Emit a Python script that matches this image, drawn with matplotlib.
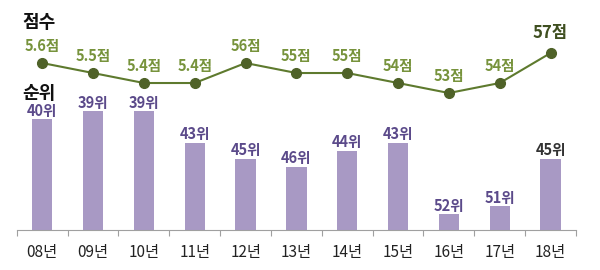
import matplotlib
matplotlib.use("Agg")
import matplotlib.pyplot as plt
import numpy as np

plt.rcParams['font.family'] = ['Noto Sans CJK KR', 'DejaVu Sans']

years = ['08년', '09년', '10년', '11년', '12년', '13년', '14년', '15년', '16년', '17년', '18년']
scores = [56, 55, 54, 54, 56, 55, 55, 54, 53, 54, 57]
score_labels = ['5.6점', '5.5점', '5.4점', '5.4점', '56점', '55점', '55점', '54점', '53점', '54점', '57점']
ranks = [40, 39, 39, 43, 45, 46, 44, 43, 52, 51, 45]
rank_labels = ['40위', '39위', '39위', '43위', '45위', '46위', '44위', '43위', '52위', '51위', '45위']

fig = plt.figure(figsize=(6, 2.7), dpi=100)
rect = [0.028, 0.148, 0.932, 0.852]
ax = fig.add_axes(rect)
x = np.arange(len(years))
base = 54
ax.bar(x, np.array(ranks) - base, bottom=base, width=0.4, color='#A899C4')
ax.set_ylim(base, 25)
ax.set_xlim(-0.5, len(years) - 0.5)
for s in ['top', 'right', 'left']:
    ax.spines[s].set_visible(False)
ax.spines['bottom'].set_color('#A0A0A0')
ax.set_yticks([])
ax.set_xticks(np.arange(-0.5, len(years), 1.0))
ax.set_xticklabels([])
ax.set_xticks(x, minor=True)
ax.set_xticklabels(years, minor=True, fontsize=11, color='#222222')
ax.tick_params(axis='x', which='major', length=4, color='#A0A0A0', direction='out')
ax.tick_params(axis='x', which='minor', length=0, pad=10)
for i, (r, lab) in enumerate(zip(ranks, rank_labels)):
    last = i == len(ranks) - 1
    ax.annotate(lab, (x[i], r), xytext=(0, 6), textcoords='offset points',
                ha='center', va='center', fontsize=10.5, fontweight='bold',
                color='#333333' if last else '#5B4A8A')

ax2 = fig.add_axes(rect, sharex=ax)
ax2.patch.set_visible(False)
ax2.axis('off')
ax2.plot(x, scores, color='#5E7A2E', lw=1.5, marker='o', ms=7,
         markerfacecolor='#4F6228', markeredgecolor='#4F6228')
ax2.set_ylim(39.3, 62.3)
for i, (s, lab) in enumerate(zip(scores, score_labels)):
    last = i == len(scores) - 1
    ax2.annotate(lab, (x[i], s), xytext=(0, 14.5 if last else 12.2), textcoords='offset points',
                 ha='center', va='center', fontsize=12 if last else 10.5, fontweight='bold',
                 color='#3F4F20' if last else '#77933C')

fig.text(0.037, 0.918, '점수', fontsize=13, fontweight='bold', color='#111111', va='center', ha='left')
fig.text(0.037, 0.652, '순위', fontsize=13, fontweight='bold', color='#111111', va='center', ha='left')

fig.savefig('out.png', dpi=100)
